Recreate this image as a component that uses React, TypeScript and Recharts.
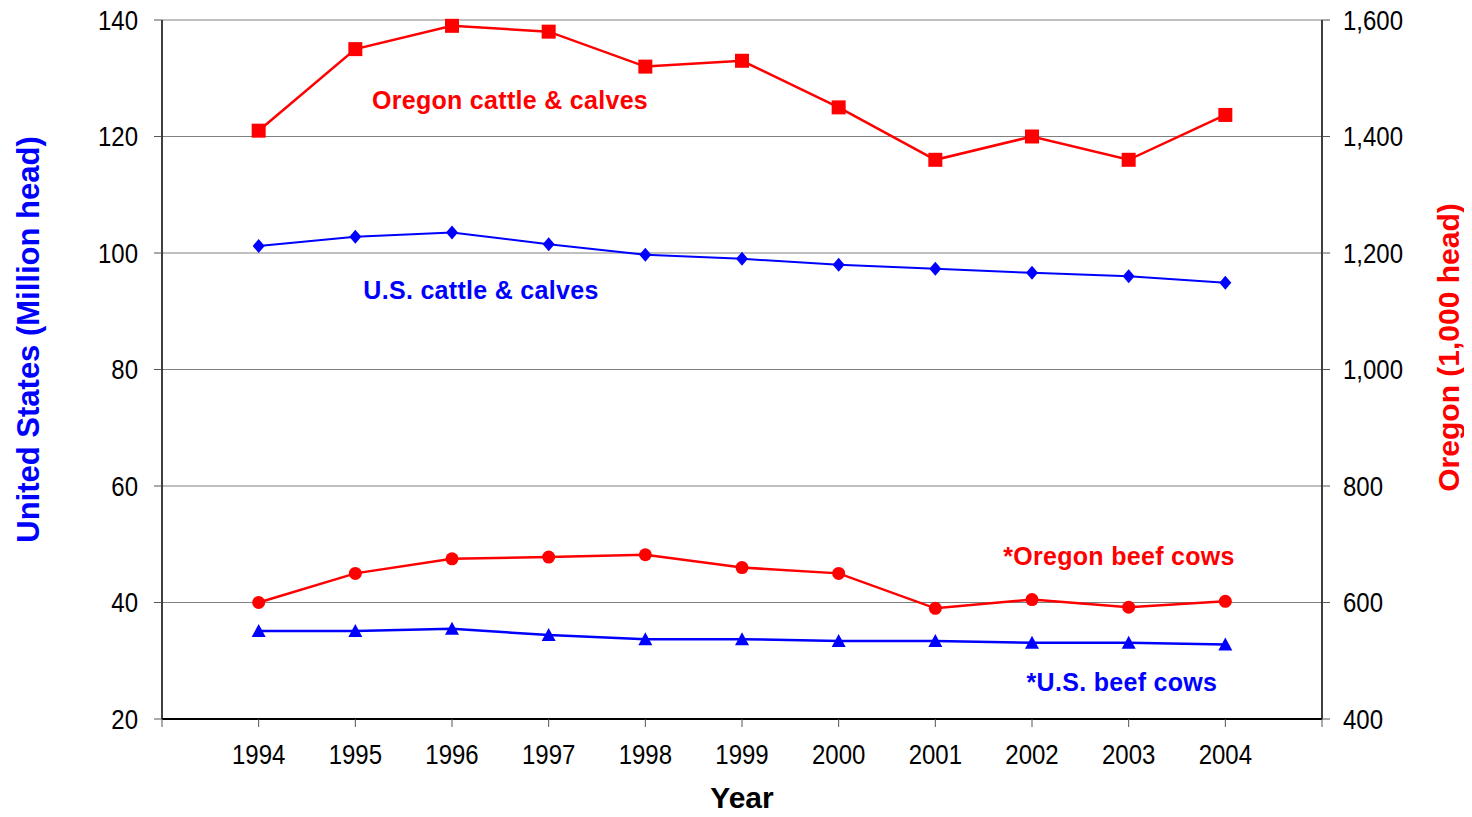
import React from 'react';
import { LineChart, Line, XAxis, YAxis, CartesianGrid, ReferenceDot } from 'recharts';

const years = [1994, 1995, 1996, 1997, 1998, 1999, 2000, 2001, 2002, 2003, 2004];
const usCattle = [101.2, 102.8, 103.5, 101.5, 99.7, 99.0, 98.0, 97.3, 96.6, 96.0, 94.9];
const usBeefCows = [35.1, 35.1, 35.5, 34.4, 33.7, 33.7, 33.4, 33.4, 33.1, 33.1, 32.8];
const orCattle = [1410, 1550, 1590, 1580, 1520, 1530, 1450, 1360, 1400, 1360, 1437];
const orBeefCows = [600, 650, 675, 678, 682, 660, 650, 590, 605, 592, 602];
const xTicks = [1993, 1994, 1995, 1996, 1997, 1998, 1999, 2000, 2001, 2002, 2003, 2004, 2005];
const leftTicks = [20, 40, 60, 80, 100, 120, 140];
const rightTicks = [400, 600, 800, 1000, 1200, 1400, 1600];

const data = years.map((y, i) => ({
  year: y,
  usCattle: usCattle[i],
  usBeefCows: usBeefCows[i],
  orCattle: orCattle[i],
  orBeefCows: orBeefCows[i],
}));

const RED = '#FF0000';
const BLUE = '#0000FF';
const FONT = '"Liberation Sans", Arial, Helvetica, sans-serif';
const TICK_FS = 24;
const STRETCH = 1.12;

const squareDot = (p: any) => (
  <rect key={`sq-${p.index}`} x={p.cx - 7} y={p.cy - 7} width={14} height={14} fill={RED} />
);
const diamondDot = (p: any) => (
  <path
    key={`dm-${p.index}`}
    d={`M${p.cx},${p.cy - 7} L${p.cx + 6},${p.cy} L${p.cx},${p.cy + 7} L${p.cx - 6},${p.cy} Z`}
    fill={BLUE}
  />
);
const triangleDot = (p: any) => (
  <path
    key={`tr-${p.index}`}
    d={`M${p.cx},${p.cy - 7} L${p.cx + 7},${p.cy + 6} L${p.cx - 7},${p.cy + 6} Z`}
    fill={BLUE}
  />
);

const XTick = (props: any) => {
  const { x, y, payload } = props;
  const v = payload.value;
  if (v === 1993 || v === 2005) return <g />;
  return (
    <g transform={`translate(${x},${y}) scale(1,${STRETCH})`}>
      <text x={0} y={0} dy="0.71em" textAnchor="middle" fontSize={TICK_FS} fontFamily={FONT} fill="#000">
        {String(v)}
      </text>
    </g>
  );
};

const makeYTick = (anchor: 'start' | 'end', fmt: (v: number) => string) => (props: any) => {
  const { x, y, payload } = props;
  return (
    <g transform={`translate(${x},${y}) scale(1,${STRETCH})`}>
      <text x={0} y={0} dy="0.36em" textAnchor={anchor} fontSize={TICK_FS} fontFamily={FONT} fill="#000">
        {fmt(payload.value)}
      </text>
    </g>
  );
};

const LeftTick = makeYTick('end', (v) => String(v));
const RightTick = makeYTick('start', (v) => v.toLocaleString('en-US'));

const annLabel = (value: string, color: string) => ({
  value,
  position: 'center' as const,
  fill: color,
  fontSize: 25,
  fontWeight: 'bold',
  fontFamily: FONT,
  letterSpacing: 0.3,
});

export default function App() {
  return (
    <div style={{ fontFamily: FONT }}>
      <LineChart
        width={1456}
        height={801}
        data={data}
        margin={{ top: 12, right: 0, left: 0, bottom: 0 }}
      >
        <CartesianGrid yAxisId="left" vertical={false} stroke="#808080" strokeWidth={1} />
        <XAxis
          dataKey="year"
          type="number"
          domain={[1993, 2005]}
          ticks={xTicks}
          interval={0}
          height={90}
          tickSize={8}
          tickMargin={18}
          stroke="#000"
          axisLine={{ stroke: '#000', strokeWidth: 2 }}
          tickLine={{ stroke: '#555' }}
          tick={XTick}
          label={{
            content: (props: any) => {
              const vb = props.viewBox;
              return (
                <text
                  x={vb.x + vb.width / 2}
                  y={vb.y + 89}
                  textAnchor="middle"
                  fontSize={30}
                  fontWeight="bold"
                  fontFamily={FONT}
                  fill="#000"
                >
                  Year
                </text>
              );
            },
          }}
        />
        <YAxis
          yAxisId="left"
          domain={[20, 140]}
          ticks={leftTicks}
          width={154}
          tickSize={8}
          tickMargin={16}
          axisLine={{ stroke: '#000', strokeWidth: 1.5 }}
          tickLine={{ stroke: '#555' }}
          tick={LeftTick}
          label={{
            content: (props: any) => {
              const vb = props.viewBox;
              const x = vb.x + 31;
              const y = vb.y + vb.height / 2 - 30;
              return (
                <text
                  x={x}
                  y={y}
                  transform={`rotate(-90, ${x}, ${y})`}
                  textAnchor="middle"
                  fontSize={31}
                  fontWeight="bold"
                  fontFamily={FONT}
                  fill={BLUE}
                >
                  United States (Million head)
                </text>
              );
            },
          }}
        />
        <YAxis
          yAxisId="right"
          orientation="right"
          domain={[400, 1600]}
          ticks={rightTicks}
          width={142}
          tickSize={8}
          tickMargin={13}
          axisLine={{ stroke: '#000', strokeWidth: 1.5 }}
          tickLine={{ stroke: '#555' }}
          tick={RightTick}
          label={{
            content: (props: any) => {
              const vb = props.viewBox;
              const x = vb.x + 137;
              const y = vb.y + vb.height / 2 - 22;
              return (
                <text
                  x={x}
                  y={y}
                  transform={`rotate(-90, ${x}, ${y})`}
                  textAnchor="middle"
                  fontSize={30}
                  fontWeight="bold"
                  fontFamily={FONT}
                  fill={RED}
                >
                  Oregon (1,000 head)
                </text>
              );
            },
          }}
        />
        <Line
          yAxisId="right"
          dataKey="orCattle"
          stroke={RED}
          strokeWidth={2.5}
          dot={squareDot}
          activeDot={false}
          isAnimationActive={false}
        />
        <Line
          yAxisId="left"
          dataKey="usCattle"
          stroke={BLUE}
          strokeWidth={2}
          dot={diamondDot}
          activeDot={false}
          isAnimationActive={false}
        />
        <Line
          yAxisId="right"
          dataKey="orBeefCows"
          stroke={RED}
          strokeWidth={2.5}
          dot={{ r: 6.5, fill: RED, stroke: RED, strokeWidth: 0 }}
          activeDot={false}
          isAnimationActive={false}
        />
        <Line
          yAxisId="left"
          dataKey="usBeefCows"
          stroke={BLUE}
          strokeWidth={2.5}
          dot={triangleDot}
          activeDot={false}
          isAnimationActive={false}
        />
        <ReferenceDot yAxisId="left" x={1996.6} y={126.3} r={0} fill="none" stroke="none" label={annLabel('Oregon cattle & calves', RED)} />
        <ReferenceDot yAxisId="left" x={1996.3} y={93.65} r={0} fill="none" stroke="none" label={annLabel('U.S. cattle & calves', BLUE)} />
        <ReferenceDot yAxisId="left" x={2002.9} y={48.0} r={0} fill="none" stroke="none" label={annLabel('*Oregon beef cows', RED)} />
        <ReferenceDot yAxisId="left" x={2002.93} y={26.35} r={0} fill="none" stroke="none" label={annLabel('*U.S. beef cows', BLUE)} />
      </LineChart>
    </div>
  );
}
